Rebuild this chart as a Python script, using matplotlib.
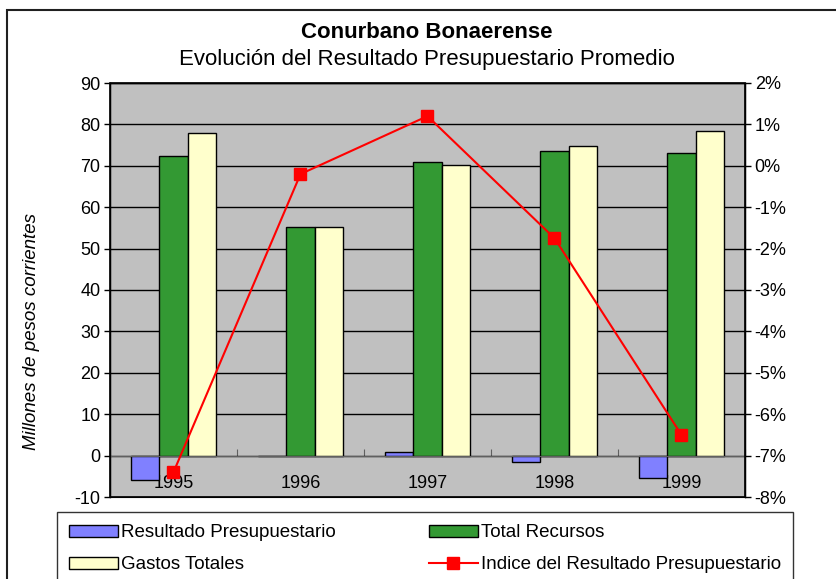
import numpy as np
import matplotlib.pyplot as plt
from matplotlib.patches import Rectangle
from matplotlib.lines import Line2D
from matplotlib.ticker import FuncFormatter

plt.rcParams['font.family'] = ['Liberation Sans', 'DejaVu Sans']
plt.rcParams['axes.unicode_minus'] = False

# Datos
anios = ['1995', '1996', '1997', '1998', '1999']
resultado = [-5.8, 0.0, 0.8, -1.5, -5.4]
recursos = [72.4, 55.1, 71.0, 73.6, 73.1]
gastos = [77.9, 55.1, 70.2, 74.9, 78.4]
indice = [-7.4, -0.2, 1.2, -1.75, -6.5]  # en %

fig = plt.figure(figsize=(8.37, 5.79), dpi=100)
ax = fig.add_axes([110 / 837, 1 - 497 / 579, 635 / 837, 414 / 579])
ax.set_facecolor('#C0C0C0')

x = np.arange(len(anios))
w = 1 / 4.5
ax.bar(x - w, resultado, w, color='#8080FF', edgecolor='black', lw=1, zorder=3)
ax.bar(x, recursos, w, color='#339933', edgecolor='black', lw=1, zorder=3)
ax.bar(x + w, gastos, w, color='#FFFFCC', edgecolor='black', lw=1, zorder=3)

ax.set_xlim(-0.5, len(anios) - 0.5)
ax.set_ylim(-10, 90)
ax.set_yticks(np.arange(-10, 91, 10))
ax.yaxis.grid(True, color='black', lw=1)
ax.set_axisbelow(True)
ax.tick_params(axis='y', labelsize=13, length=4, width=1, pad=3)

# eje x en el cero, con marcas entre categorías
ax.spines['bottom'].set_position(('data', 0))
ax.spines['bottom'].set_color('#606060')
ax.spines['bottom'].set_zorder(4)
ax.set_xticks(np.arange(-0.5, len(anios), 1))
ax.set_xticklabels([])
ax.set_xticks(x, minor=True)
ax.set_xticklabels(anios, minor=True)
ax.tick_params(axis='x', which='major', length=5, direction='in', color='#606060')
ax.tick_params(axis='x', which='minor', length=0, labelsize=13, pad=14)
for s in ['top', 'left', 'right']:
    ax.spines[s].set_linewidth(1)

# bordes del área de trazado
ax.add_patch(Rectangle((0, 0), 1, 1, transform=ax.transAxes, fill=False,
                       edgecolor='black', lw=1.2, zorder=5, clip_on=False))

ax.set_ylabel('Millones de pesos corrientes', fontsize=13.5, style='italic')
ax.yaxis.set_label_coords(-0.11, 0.4)

ax2 = ax.twinx()
ax2.plot(x, indice, color='red', lw=1.5, marker='s', ms=8, zorder=6)
ax2.set_ylim(-8, 2)
ax2.set_yticks(np.arange(-8, 2.1, 1))
ax2.yaxis.set_major_formatter(FuncFormatter(lambda v, p: f'{v:.0f}%'))
ax2.tick_params(axis='y', labelsize=13, length=4, width=1, pad=3)

fig.text(427 / 837, 1 - 32 / 579, 'Conurbano Bonaerense', ha='center', va='center',
         fontsize=16, fontweight='bold')
fig.text(427 / 837, 1 - 60 / 579, 'Evolución del Resultado Presupuestario Promedio',
         ha='center', va='center', fontsize=16)

# borde del gráfico
fig.patches.append(Rectangle((7 / 837, -0.05), 1.0, 1 - 10 / 579 + 0.05,
                             transform=fig.transFigure, fill=False,
                             edgecolor='#202020', lw=1.5))

handles = [
    Rectangle((0, 0), 1, 1, facecolor='#8080FF', edgecolor='black'),
    Rectangle((0, 0), 1, 1, facecolor='#FFFFCC', edgecolor='black'),
    Rectangle((0, 0), 1, 1, facecolor='#339933', edgecolor='black'),
    Line2D([], [], color='red', lw=1.5, marker='s', ms=8),
]
labels = ['Resultado Presupuestario', 'Gastos Totales', 'Total Recursos',
          'Indice del Resultado Presupuestario']
leg = fig.legend(handles, labels, ncol=2, loc='upper left',
                 bbox_to_anchor=(57 / 837, 1 - 512 / 579, 736 / 837, 0.0),
                 mode='expand', fontsize=13.5, frameon=True, fancybox=False,
                 edgecolor='black', handlelength=2.6, handleheight=0.6,
                 handletextpad=0.15, labelspacing=0.8, borderpad=0.65,
                 borderaxespad=0)
leg.get_frame().set_linewidth(1)

fig.savefig('out.png', dpi=100)
